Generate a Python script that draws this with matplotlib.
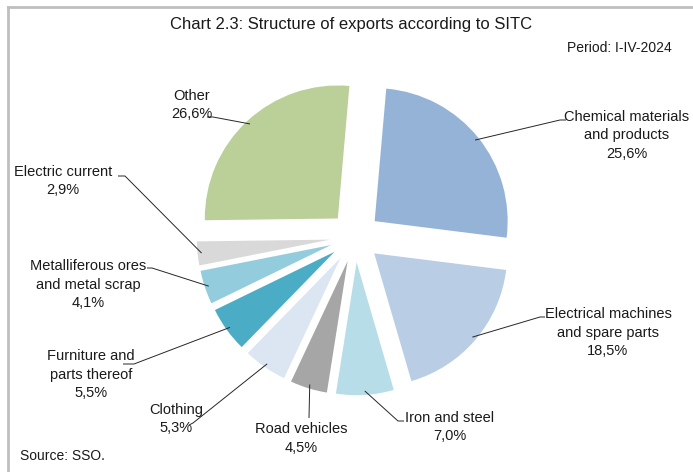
import matplotlib
matplotlib.use("Agg")
import matplotlib.pyplot as plt
from matplotlib.lines import Line2D
import numpy as np

plt.rcParams['font.family'] = ['Liberation Sans', 'DejaVu Sans']

# data
labels = ["Chemical materials\nand products", "Electrical machines\nand spare parts",
          "Iron and steel", "Road vehicles", "Clothing", "Furniture and\nparts thereof",
          "Metalliferous ores\nand metal scrap", "Electric current", "Other"]
shares = [25.6, 18.5, 7.0, 4.5, 5.3, 5.5, 4.1, 2.9, 26.6]
colors = ["#95B3D7", "#B9CDE5", "#B7DEE8", "#A6A6A6", "#DCE6F2",
          "#4BACC6", "#93CDDD", "#D9D9D9", "#BBCF98"]

# label layout in pixels: centre x, first line y, leader elbow, leader end
label_pos = [(627, 117), (608, 314), (450, 418), (301, 429), (176, 410),
             (91, 356), (88, 266), (63, 172), (192, 96)]
leaders = [[(560, 120), (566, 120)], [(540, 317), (545, 317)], [(398, 421), (404, 421)],
           [(309, 418)], [(193, 423), (189, 425)], [(134, 364), (123, 364)],
           [(152, 268), (147, 268)], [(125, 176), (118, 176)], [(213, 117), (207, 117)]]

W, H = 693, 472
cx, cy, R = 355, 237, 133


def px(x, y):
    return (x - cx) / R, (cy - y) / R


fig = plt.figure(figsize=(W / 100, H / 100), dpi=100)
ax = fig.add_axes([0, 0, 1, 1])

wedges, _ = ax.pie(shares, colors=colors, startangle=85, counterclock=False,
                   explode=[0.19] * len(shares), radius=1,
                   wedgeprops=dict(linewidth=0))
ax.set_aspect('auto')
ax.set_xlim(-cx / R, (W - cx) / R)
ax.set_ylim(-(H - cy) / R, cy / R)
ax.axis('off')

for w, lab, v, (tx, ty), path in zip(wedges, labels, shares, label_pos, leaders):
    mid = np.deg2rad((w.theta1 + w.theta2) / 2)
    x0 = w.center[0] + 0.97 * np.cos(mid)
    y0 = w.center[1] + 0.97 * np.sin(mid)
    pts = [(x0, y0)] + [px(*p) for p in path]
    xs, ys = zip(*pts)
    ax.plot(xs, ys, color='#262626', lw=0.7, solid_capstyle='butt')
    lines = lab.split('\n') + [f"{v:.1f}%".replace('.', ',')]
    for i, line in enumerate(lines):
        ax.text(*px(tx, ty + i * 18.5), line, ha='center', va='center',
                fontsize=10.5, color='#1a1a1a')

fig.text(351 / W, 1 - 25 / H, "Chart 2.3: Structure of exports according to SITC",
         ha='center', va='center', fontsize=12, color='#1a1a1a')
fig.text(672 / W, 1 - 48 / H, "Period: I-IV-2024", ha='right', va='center',
         fontsize=10, color='#1a1a1a')
fig.text(20 / W, 1 - 456 / H, "Source: SSO.", ha='left', va='center',
         fontsize=10, color='#1a1a1a')

# outer frame (left and top edges visible)
fig.add_artist(Line2D([8 / W, 8 / W], [0, 1 - 7 / H], color='#BFBFBF', lw=2))
fig.add_artist(Line2D([8 / W, 1], [1 - 7 / H, 1 - 7 / H], color='#BFBFBF', lw=2))

fig.savefig("out.png", dpi=100)
